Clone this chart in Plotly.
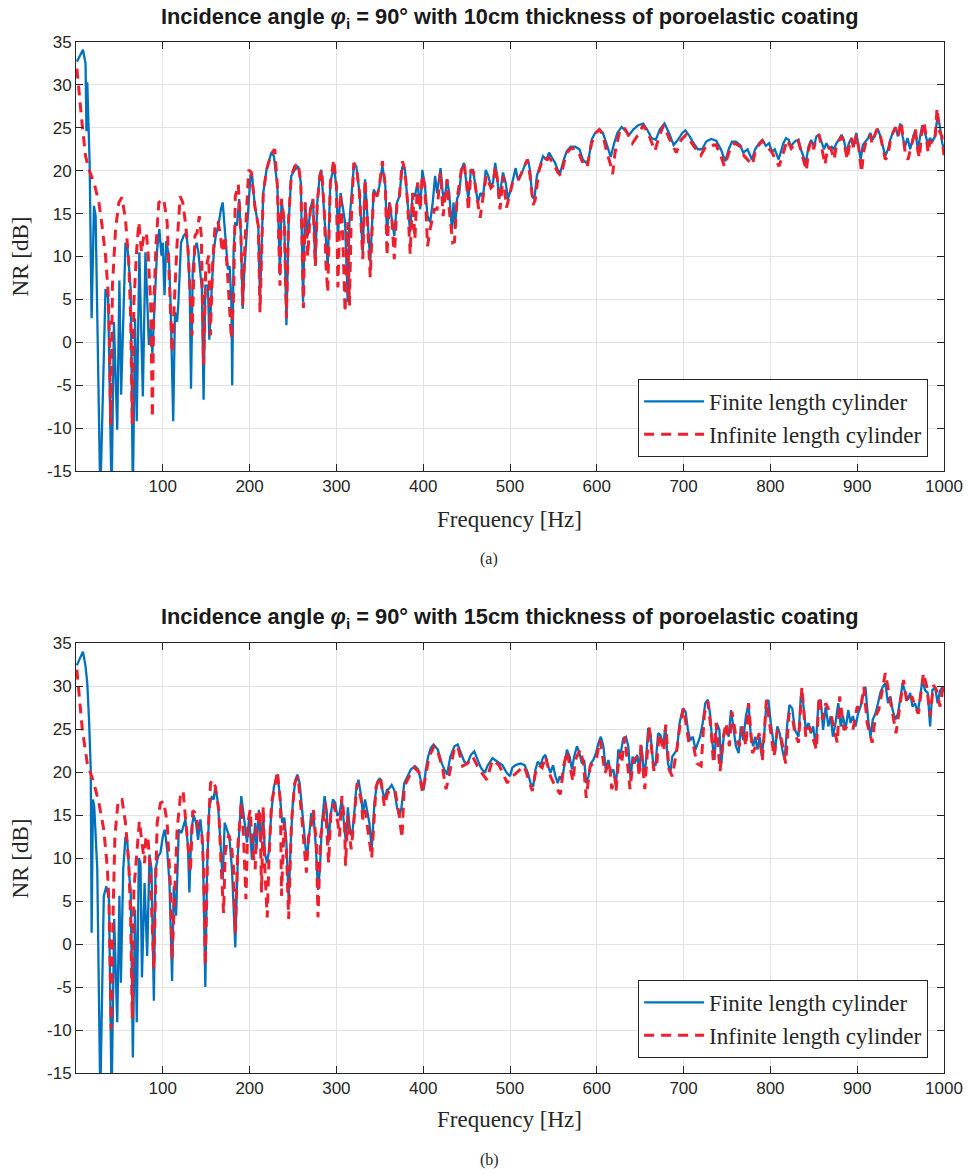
import plotly.graph_objects as go

# Noise reduction NR [dB] versus frequency [Hz], (frequency, NR) pairs per series.
# (a) 10 cm poroelastic coating
finite_10cm = [
    (1, 32.7), (8, 34.1), (11, 32.5), (12, 24.6), (13, 30.3), (15.7, 20.9), (18, 2.8), (20.7, 15.9),
    (22.6, 14.7), (28, -18), (34, 6.2), (37, 5.1), (41, -18), (43.7, 2.4), (47.5, -10.2), (50, 7.2),
    (52, -6.1), (57, 11.6), (59.4, 10.9), (63, 6.2), (65.5, -18), (68, 2.8), (70, -9.2), (73, 10.5),
    (77, -6.3), (80, 10.5), (84, -0.3), (86, 1.6), (88, -1.3), (93.5, 10.9), (96, 13.2), (98.5, 10.1),
    (100, 11.6), (102, 5.5), (104, 11.8), (107, 10.1), (109, 4.3), (112, -9.2), (114, 3.5), (116.5, 2.4),
    (118, 4.7), (121, 11.6), (124, 12.4), (127, 12.8), (129, 10.9), (131, 6.2), (132.5, -5.4), (134.5, 8.5),
    (137, 10.9), (139, 11.6), (141, 10.5), (143.7, 7.8), (145, 6.2), (147, -6.7), (149, 6.6), (152, 6.6),
    (153.6, 0.3), (156.7, 7.0), (159, 10.9), (161, 12.4), (164, 13.6), (167, 15.5), (169, 16.3), (172, 12.4),
    (175, 8.5), (177, 8.9), (179, 4.7), (180, -5), (181.6, 10.9), (183.5, 14), (185.4, 13.6), (188, 16.7),
    (190, 12.4), (192, 3.9), (194, 8.5), (197, 13.2), (201, 19.4), (203, 19.3), (206, 15.9), (210, 13.6),
    (212, 4.7), (215.7, 17.4), (219.5, 20.1), (225, 22.1), (228, 21.7), (232, 18.2), (235, 7.8), (236.7, 16.7),
    (240, 14), (242.4, 2), (245, 14), (248, 19.4), (252, 20.1), (256, 20.5), (259, 18.6), (261.6, 4.7),
    (264, 16.3), (267, 12.4), (270, 15.5), (273, 16.7), (275.7, 8.9), (278, 16.3), (280.7, 19.4), (282.6, 20.1),
    (285.7, 15.5), (288, 11.6), (290, 8.9), (293, 18.6), (297, 20.5), (300, 18.2), (301.7, 12.4), (304.8, 17.4),
    (307.5, 15.5), (310, 14), (313, 4.7), (315, 14), (320, 20.5), (323, 20.5), (326.6, 17.4), (330.4, 10.5),
    (333, 19), (336, 13.6), (339, 9.4), (343, 17.8), (346.8, 17), (349.5, 18.2), (353, 20.6), (356.4, 18.2),
    (358.3, 12.4), (361, 16.3), (363.7, 14.7), (366.7, 12.4), (369.8, 16.3), (372.5, 17), (376, 20.5), (379, 20.1),
    (382, 16.3), (385, 12.8), (387.8, 17.4), (390.4, 17), (393.5, 18.6), (396.6, 15.5), (399, 20.1), (402, 18.2),
    (405, 14.7), (408, 14), (411, 16.3), (413.7, 19.4), (416, 17.4), (420, 20.3), (422.5, 17.4), (424.4, 16.3),
    (427.5, 19), (430, 17.4), (433, 13.2), (435, 16.3), (436.6, 13.2), (439, 16.7), (441.6, 17.4), (444, 20.1),
    (447, 20.9), (450, 18.6), (452, 16.7), (455, 20.1), (457.5, 20.1), (460.7, 17.8), (463, 16.3), (466, 17.4),
    (469, 17), (472, 20.1), (475, 19.4), (478, 18.2), (480.5, 18.6), (483, 20.9), (485.5, 19), (487.4, 16.7),
    (490, 18.2), (492, 19.8), (495, 18.6), (497.7, 16.7), (500.8, 17.8), (504, 19.4), (506.5, 20.3), (509, 19),
    (512, 19.4), (515, 20.1), (518, 20.9), (520.6, 21.3), (523, 20.1), (525.6, 17), (528, 16.7), (531, 19.4),
    (535, 20.9), (538, 21.7), (542, 21.3), (545, 22.1), (548.5, 21.5), (552, 20.9), (555, 20.1), (558, 19.8),
    (562, 21.3), (565.6, 22.3), (570, 22.8), (575, 22.8), (580, 22.5), (584, 21.3), (588, 20.9), (590.5, 21.3),
    (594, 23.6), (598, 24.4), (603, 24.8), (607, 24.4), (611, 23.2), (616, 21.6), (620, 23.2), (623.7, 24.4),
    (628.6, 25.1), (632.4, 24.7), (637.4, 24.2), (642, 24.8), (647.7, 25.3), (653.4, 25.5), (658, 24.8), (663, 23.8),
    (668, 23.6), (672.5, 24.8), (678, 25.5), (683.2, 24.4), (688.5, 23), (693.5, 23.6), (698.5, 24.4), (702, 24.7),
    (707, 24), (711.5, 23.2), (716.4, 22.5), (721.4, 22.5), (726, 23.4), (731.7, 23.7), (737.4, 23.5), (743, 22.5),
    (748, 21.1), (752, 22.5), (755.7, 23.4), (760.3, 23.4), (765, 23), (768.7, 22.1), (773.7, 22.5), (778.6, 21.3),
    (782.4, 22.5), (787, 23.2), (790.8, 23.6), (794.7, 22.9), (798.5, 23.2), (802, 22.2), (805, 22.5), (809.5, 21.3),
    (812, 22.1), (815, 23.2), (818, 23.8), (821, 23.6), (823.7, 22.8), (826.3, 23.2), (829.4, 23.5), (832.4, 23.6),
    (835, 22.5), (837.8, 21.7), (840.8, 20.9), (843.9, 22.8), (847, 23.6), (850, 22.8), (853, 24), (856, 24.2),
    (859, 23.2), (861.8, 22.5), (864.5, 23.2), (867.6, 22.6), (870.6, 22.8), (873.3, 22.5), (876, 23.2), (879, 23.6),
    (882, 24.2), (884.7, 23.6), (887.4, 22.1), (890.5, 23.2), (893.5, 23.8), (896, 22.8), (899, 24.4), (901, 23.2),
    (904, 21.3), (906.5, 23), (909.5, 23.4), (912.6, 23.8), (915, 24.4), (918, 23.6), (921, 24.4), (924, 24.8),
    (926.7, 24), (929.4, 22.8), (932.4, 21.7), (935.5, 22.5), (938, 23.6), (941, 24.4), (944, 25.1), (947, 24),
    (949.6, 25.5), (952.3, 24), (955, 22.8), (958, 23.8), (961, 22.5), (963.7, 23.6), (966.8, 24.7), (969.8, 22.5),
    (972.5, 24), (975, 25.3), (978, 24.4), (981.3, 23.2), (984, 23.8), (986.6, 23.4), (989.7, 24), (992.7, 26.5),
    (995.4, 25.1), (998, 23.2), (1000, 22.5),
]

infinite_10cm = [
    (1, 31.9), (3.4, 29), (7.3, 25.2), (11, 21.7), (15, 20.1), (20.7, 18.6), (26.4, 16.3), (30, 13.6),
    (34, 10.1), (37, 5.8), (38.7, 0), (40, -9.6), (42, 6.6), (45.6, 13.2), (49.4, 16.3), (53, 16.9),
    (57, 14.3), (60.8, 9.3), (63, 2.8), (64.8, -9.6), (66.7, 4.7), (70, 10.9), (72.4, 14), (75.5, 10.5),
    (78, 12.4), (81, 12.8), (83, 10.5), (86, 4.7), (88, -8.8), (89.7, 4.7), (92.3, 11.6), (95.4, 16.3),
    (101, 16.7), (105, 14), (109, 4.7), (110.7, -1.2), (114, 6.2), (116.5, 11.6), (120, 17), (123, 16.3),
    (126, 14), (129, 10.9), (132, 4.7), (133.7, 0.8), (137, 12.4), (139.5, 12.8), (142, 14.7), (144.4, 12.4),
    (147, -2.6), (149.4, 8.5), (152.9, 10.1), (154.8, 0.8), (157.5, 9.3), (160.5, 14), (163.5, 14), (166, 12.8),
    (168.6, 10.5), (171.6, 12.4), (174.7, 7.8), (179, 0.4), (181.6, 5.4), (183.5, 17), (187, 18.4), (190, 12.4),
    (192, 4.3), (195, 12.4), (199, 20.1), (202, 19.8), (206, 15.9), (210, 13.6), (212, 3.5), (215.7, 17.4),
    (219.5, 20.1), (225, 22), (229, 22.5), (232, 18.2), (235, 6.6), (236.7, 16.7), (240, 14), (242.4, 2.8),
    (245, 14.5), (248, 19.4), (252, 20.5), (256, 20.9), (259, 18.6), (262, 4), (264, 16.3), (267, 10),
    (270, 15.5), (273, 16.7), (275.7, 8.9), (278, 16.3), (281, 19.4), (283, 20.1), (286, 15.5), (288, 9),
    (290, 5.8), (293, 18.6), (297, 21.3), (300, 18.2), (301.7, 6.4), (304.8, 17.4), (307.5, 12), (310, 3.5),
    (313, 14), (315, 4.3), (317, 14), (320, 20.9), (323, 20.5), (326.6, 17.4), (330.4, 9.7), (333, 19),
    (336, 13.6), (339, 7.6), (343, 17.8), (346.8, 17), (349.5, 18.2), (353, 21.1), (356.4, 18.2), (358.3, 10.1),
    (361, 16.3), (363.7, 14.7), (366.7, 9.7), (369.8, 16.3), (372.5, 17), (376, 21.1), (379, 20.1), (382, 16.3),
    (385, 10.3), (387.8, 17.4), (390.4, 12), (393.5, 18.6), (396.6, 15.5), (399, 19.5), (402, 18.2), (405, 11.2),
    (408, 13.2), (413, 15.5), (416, 15.5), (420, 19.8), (423, 14.7), (427.5, 19), (430, 15.5), (434, 11.6),
    (436, 11.7), (439, 16.7), (444, 20.1), (447, 20.9), (450, 18.6), (452, 15.3), (455, 20.1), (458, 19.8),
    (461, 17.5), (465.6, 14.5), (469, 17), (472.7, 19.4), (478, 18), (480.5, 18.3), (483, 20.5), (485.5, 19),
    (488.5, 15.5), (492, 19.4), (496, 15.7), (500.8, 17.5), (504, 19), (510, 19), (515, 20.1), (520, 21.3),
    (523, 19.5), (526.7, 16), (529, 16.6), (533, 19.8), (538, 21.5), (543, 21.3), (545, 21.5), (550, 20.9),
    (555, 19.8), (558.8, 19.4), (562, 20.9), (565.6, 22.1), (570, 22.6), (575, 22.6), (580, 21.9), (585.5, 20.5),
    (589, 20.5), (594, 23.2), (599, 24.4), (603, 24.8), (607, 24.2), (611.5, 22.1), (615.3, 20.9), (618.3, 19.6),
    (621, 22.1), (627, 24.9), (632.4, 24.9), (641, 23.2), (647.7, 24.2), (653.4, 25.3), (659, 24.4), (667, 22.3),
    (672.5, 24.2), (677, 25.3), (683.2, 23.8), (691.6, 22.1), (697.3, 23.6), (703, 24.2), (711.5, 22.9), (720, 21.8),
    (726, 22.9), (737.4, 23), (743, 21.7), (747, 20.5), (753.5, 22.5), (758.5, 23.2), (766, 22.8), (769.8, 21.7),
    (779.4, 20.7), (783, 22.5), (790.8, 23.5), (796.5, 22.8), (802, 22.1), (810, 20.5), (814.5, 22.1), (819.5, 23.6),
    (824, 22.6), (828.5, 23.2), (832, 23.5), (835, 22.3), (837.8, 21.3), (841.5, 20), (844, 22.5), (847, 23.5),
    (850, 22.5), (852.5, 23.8), (856, 24.2), (859, 22.8), (863, 20.7), (866, 22.8), (870, 22.5), (873.3, 21.3),
    (876, 22.8), (879, 23.5), (882, 24), (885, 23.2), (888.5, 21.3), (891, 23), (893.5, 23.8), (896, 22.5),
    (899, 24.2), (902, 22.5), (905, 19.8), (907.6, 22.3), (910, 23.3), (913, 23.8), (915, 24.2), (917, 23.2),
    (921, 24.2), (923, 24.9), (927, 23.9), (929.5, 22.5), (932.4, 21.3), (935.5, 21.7), (938, 23.4), (941, 24.4),
    (944, 25), (947, 24), (950.5, 25.7), (953, 23.8), (955.5, 22), (958.5, 21.3), (961, 22.5), (963.7, 23.4),
    (967, 24.9), (969.8, 22.3), (971.8, 21.5), (974, 24.2), (976.7, 25.7), (979, 24.4), (981.7, 22.1), (984, 23.5),
    (987, 23.2), (990, 24.2), (992, 27.3), (994.8, 24.6), (997.6, 24.0), (1000, 21.8),
]

# (b) 15 cm poroelastic coating
finite_15cm = [
    (1, 32.4), (8, 34), (11, 32.3), (13, 30.3), (15, 26.1), (17, 20.3), (18, 1.3), (19.5, 16.8),
    (21, 16), (24.5, 8.7), (28, -18), (32, 5.6), (35, 6.7), (38, 5.2), (41, -18), (44, 2.9),
    (47.5, -9.1), (50, 5.6), (51.7, -4.5), (54.4, 8.7), (57, 12.5), (59, 12.1), (61.7, 7.5), (63, 6.3),
    (65.5, -13.2), (68, 4), (70, -9.1), (72.4, 10), (74.3, 9.4), (76, -3.9), (79, 7.1), (82, -1.4),
    (84.7, 10.4), (87, 8.7), (89.7, -6.6), (91.6, 8.7), (94.6, 10.2), (97.3, 10.6), (100, 12.5), (102.3, 13.3),
    (105, 11), (107.7, 7.1), (110.7, -4.3), (112.6, 6.7), (115.3, 3.3), (118.4, 13.3), (121.5, 12.9), (124, 13.7),
    (126, 14.5), (129, 11.4), (130.6, 6), (133, 13.3), (135.6, 15), (138.3, 14.1), (140.6, 12.1), (143.3, 14.5),
    (146, 11.8), (149, -5), (151, 8.7), (153.6, 16), (156.7, 17.2), (158.6, 16.8), (160.5, 18.3), (163.6, 16.4),
    (166.3, 12.5), (169, 7.5), (171.3, 14.1), (174, 13.3), (176.6, 12.5), (179.7, 8.7), (183.5, -0.4), (186.6, 10.6),
    (190.4, 17.2), (194.3, 14.1), (197, 11.8), (199.6, 14.8), (202.7, 9.8), (206.5, 14.1), (208, 11), (210.7, 15.6),
    (213, 11.8), (215.7, 14.9), (217.6, 10.6), (220, 9.4), (222, 10.6), (225, 15.2), (228, 18.3), (232, 19.7),
    (235, 17.2), (237.5, 14.1), (240, 14.7), (242.4, 11.8), (245, 5.2), (247.4, 11.8), (250, 16.8), (252.8, 19.1),
    (255, 19.7), (257.7, 18.7), (260.4, 15.6), (263.5, 12.1), (265.8, 9.8), (268.5, 12.5), (271, 15.2), (273.8, 14.9),
    (276.5, 11), (278.8, 6.3), (281, 8.7), (283.4, 14.1), (286.4, 17.2), (288.7, 15.6), (291, 11.8), (293.3, 14.9),
    (296, 16.8), (298.7, 16.4), (301, 14.9), (303.6, 15.2), (306.3, 16.8), (308.6, 14.1), (311, 11.8), (313.2, 15.9),
    (315.5, 13.3), (317.8, 12.5), (320, 14.5), (322.7, 17.9), (325.4, 19.1), (328.5, 17.2), (330.4, 15.2), (333, 16.8),
    (335.4, 15.6), (338, 14.1), (340.7, 11), (343.8, 16.4), (346.8, 18.7), (350, 19.3), (353, 17.9), (355.3, 16.8),
    (358.3, 17.9), (361, 18.1), (363.7, 18.5), (366.7, 17.9), (369.8, 15.9), (372.5, 14.9), (375, 15.9), (378.2, 18.7),
    (382, 19.5), (385.8, 20.3), (390.4, 20.7), (394.2, 20.3), (398, 18.7), (400.4, 17.9), (403, 20.3), (405.7, 21.8),
    (408.8, 22.8), (412, 23.2), (416.8, 22.6), (421.4, 21), (424.4, 20.3), (427.5, 19.7), (431.3, 21.8), (436, 23),
    (439.7, 23.2), (443.5, 22.2), (447.3, 21.2), (451, 21), (455, 22), (458.8, 22.4), (462.6, 21.4), (466.4, 20.5),
    (471, 19.9), (474, 20.7), (479.8, 21.6), (485.5, 21.2), (491.2, 20.8), (496.2, 19.9), (500, 19.5), (502.7, 20.5),
    (506.5, 20.8), (512.2, 21), (516.8, 20.8), (520.6, 19.9), (523.7, 18.7), (526.7, 18.3), (529.4, 20.3), (532, 21.2),
    (535, 20.8), (538.2, 21.7), (540.8, 22), (543.5, 20.8), (546.6, 19.9), (549.6, 20.8), (552.3, 19.5), (555, 18.7),
    (557.3, 19.5), (560, 19.1), (562.6, 21), (565.6, 22.6), (568.7, 21.8), (571.4, 20.3), (574, 21.8), (577.1, 23),
    (580, 22.2), (582.8, 21), (585.5, 21.4), (587.8, 18.7), (590.5, 19.5), (593, 21), (596, 21.4), (599, 22.2),
    (602, 23.4), (604.6, 24.1), (607.6, 23), (610.3, 20.3), (613.4, 21.4), (616, 19.9), (619, 20.3), (622, 18.3),
    (624.8, 22.6), (627.5, 22.2), (630.5, 23.9), (633.6, 24.1), (636.3, 23), (639, 19.1), (641.2, 21.8), (643.9, 21),
    (646.6, 22), (648.9, 20.3), (651.5, 23), (654.2, 19.9), (656.5, 21), (659.2, 25.1), (661.8, 24.5), (664.9, 21),
    (667.6, 20.7), (670.6, 24.5), (673.3, 24.3), (676.3, 23), (679, 25.3), (682, 21), (684.7, 19.9), (687, 21.8),
    (689.7, 22.2), (692.4, 22.6), (695.4, 25.7), (699.2, 27.4), (702.3, 27), (705, 24.9), (707.6, 23.7), (710.7, 24.1),
    (713.7, 22.6), (716.4, 23.4), (719, 24.1), (722, 25.7), (725, 28), (727.9, 28.4), (730.5, 26.8), (732.8, 23.7),
    (735.5, 21.4), (738.2, 25.7), (741.2, 24.9), (743.5, 21), (746.2, 24.1), (748.9, 25.3), (751.9, 24.1), (754.6, 27.2),
    (757.3, 24.9), (760.3, 23), (763.4, 22.2), (766, 25.3), (768.7, 23.7), (771.8, 26.5), (774.8, 28), (777.5, 24.1),
    (780.2, 23), (782.4, 24.1), (785.1, 22.6), (787.8, 24.1), (790, 21.8), (792.7, 24.1), (795.4, 28), (797.7, 28.4),
    (800.4, 25.7), (803, 24.1), (805.3, 22.2), (808, 25.3), (810.7, 24.5), (813.7, 22.6), (816.4, 21.4), (819.5, 25.7),
    (822, 27.8), (825.2, 27.4), (828.2, 24.9), (832.4, 24.1), (835, 28.8), (837.8, 28), (840.8, 24.9), (843.9, 25.7),
    (846.6, 24.5), (849.2, 25.3), (852.3, 23), (855.3, 28), (858, 28.4), (860.7, 24.9), (863.7, 27.6), (866.8, 25.3),
    (869.5, 26.5), (872, 24.1), (875, 25.7), (878.2, 28), (881, 25.3), (883.6, 26.5), (886.6, 24.9), (889.7, 27.2),
    (892.4, 25.7), (895, 26.5), (898, 25.3), (901, 26.8), (903.8, 27.6), (906.5, 28.8), (909.5, 29.9), (912.6, 26.1),
    (915.3, 24.1), (918, 26.1), (921, 26.8), (924, 28), (926.7, 29.2), (929.4, 29.9), (932.4, 30.3), (935.5, 28),
    (938.2, 28.8), (940.8, 27.2), (944, 26.1), (947, 26.8), (949.6, 28.4), (952.3, 30.3), (955.3, 29.2), (958.4, 28.4),
    (961, 29.2), (963.7, 27.6), (966.8, 28), (969.8, 26.8), (972.5, 28.8), (975.2, 30.7), (978.2, 29.5), (981.3, 29.2),
    (984, 25.3), (986.6, 29.5), (989.7, 29.9), (992.7, 28), (995.4, 29.4), (998, 29.9), (1000, 29.5),
]

infinite_15cm = [
    (1, 31.9), (3.4, 29), (7.3, 24.9), (13, 21), (20.7, 18.7), (26.4, 16.4), (32, 13.3), (36, 9),
    (38, 4.8), (39.8, -4.9), (40.6, -9.9), (42.5, 2.5), (44.8, 12.5), (48.7, 16.8), (53, 16.8), (57, 14.1),
    (60.8, 9.4), (63, 2.8), (64.8, -8.7), (66.7, 6.3), (70.5, 11.7), (73, 14.3), (76, 11.8), (79, 9.4),
    (80.5, 12.5), (82.8, 12.5), (85.4, 8.7), (87.4, 2.9), (89.7, -2.9), (91.6, 6.3), (93.5, 14.1), (97.3, 16.4),
    (101, 16.6), (105, 14.1), (108.8, 6.7), (110.7, -1.8), (113.8, 6.3), (116.5, 13.3), (120.3, 17.2), (123.4, 17.8),
    (126, 14.8), (129, 11.8), (131.8, 8.3), (134.5, 15.5), (136.8, 15.3), (139.5, 14.3), (142.1, 12.8), (145, 12.8),
    (147, 8.7), (149, -2.5), (152, 12.5), (155, 18.7), (157.5, 19.1), (160.5, 18.3), (164.4, 15.6), (167.4, 8.7),
    (170, 3.6), (172, 10.8), (175.9, 12.7), (179, 11.6), (181.6, 8.7), (183.5, 1.3), (186.6, 11.6), (190.4, 16.4),
    (193, 12.5), (195.8, 5.2), (198, 14.1), (200.7, 15.6), (203.4, 11), (206.5, 8.7), (208, 15.2), (210, 14.1),
    (211.9, 15.6), (213.8, 6), (215.7, 16), (217.6, 8.7), (220.3, 3.1), (222.2, 9.4), (225.2, 16.4), (229, 18.3),
    (232, 20.1), (235.6, 16.4), (236.7, 5.6), (239.8, 14.1), (242.4, 11), (245, 2.9), (248.2, 14.1), (252, 18.7),
    (255.8, 19.5), (259.7, 15.2), (262.7, 11.8), (265.4, 8.3), (268, 12.5), (271, 13.7), (273.4, 15.6), (276.9, 11.8),
    (278.8, 3.1), (281.8, 12.5), (284.5, 14.1), (287.2, 16.4), (291, 9.4), (294, 16), (297.1, 16.2), (301.7, 14.1),
    (303.6, 12.5), (306.3, 17.2), (309.4, 14.1), (310.5, 9.1), (313.2, 14.9), (317, 11), (320, 14.1), (323.9, 18.7),
    (328.5, 16.8), (330.4, 14.5), (333, 15.6), (336.9, 12.9), (340.7, 10), (345.7, 18.3), (350.7, 19.5), (355.3, 16),
    (359.1, 17.6), (362.9, 17.9), (367.5, 17.9), (372.5, 14.9), (375.5, 12.3), (378.2, 18.3), (385.8, 19.9), (390.4, 20.5),
    (395.4, 19.9), (399.2, 17.6), (403, 19.5), (406.9, 21.8), (412.6, 23), (415.7, 22.8), (422.5, 20.3), (426.3, 18),
    (429, 19.1), (435.9, 22.8), (439.7, 23), (445.4, 20.7), (451.1, 21), (456.9, 21.8), (464.5, 20.3), (473.3, 19.1),
    (479.8, 21.4), (487.4, 20.8), (496.9, 18.7), (500.8, 19.5), (505.3, 19.7), (516, 20.7), (519, 19.9), (525.6, 17.8),
    (529.4, 19.9), (533.2, 20.8), (537, 20.5), (540.8, 21.8), (546.6, 19.5), (552.3, 18.3), (558, 17.4), (561.8, 20.7),
    (565.6, 22.4), (572.5, 18.9), (575.2, 21.4), (580.9, 22.6), (584.7, 21), (587.8, 17), (592.4, 20.7), (596.2, 21),
    (600, 21.8), (603.8, 23.7), (609.5, 19.9), (614.5, 21.2), (617.2, 18), (621, 19.5), (622.1, 17.8), (626, 22.2),
    (628.6, 21), (632.4, 24.1), (638.2, 18), (642, 21.4), (646.6, 21.8), (648.9, 19.5), (650.8, 23.2), (655.3, 18),
    (660.3, 25.3), (665.6, 20.3), (668.7, 20.3), (671.8, 24.5), (677.1, 22.4), (679.4, 25.5), (683.2, 20.3), (687, 19.5),
    (691.6, 22.2), (696.2, 25.7), (700, 27.4), (706.1, 23.4), (711.5, 23), (715.3, 21), (720.2, 20.7), (724, 26.8),
    (727.9, 28.2), (731.7, 24.9), (734.4, 21), (737.4, 25.7), (742, 20.1), (745.8, 24.1), (748.9, 25.7), (752.7, 23),
    (755.7, 27), (760.3, 24.1), (764.1, 23), (767.9, 25.3), (771.8, 23), (774.8, 28), (779.4, 22.2), (783.2, 23),
    (787, 24.5), (790.8, 21.4), (795.4, 28.4), (800.4, 24.5), (804.2, 21.8), (808, 24.9), (813, 23.7), (817.6, 21),
    (821.4, 26.8), (825.2, 26.5), (828.2, 24.5), (832.4, 23.4), (836.3, 29.9), (840.8, 24.1), (844.7, 25.3), (848.5, 24.1),
    (853, 22.6), (856.1, 28.8), (860, 26.1), (863.7, 28), (869.5, 26.8), (877.1, 23.4), (879.8, 28.8), (884.7, 24.9),
    (888.5, 25.3), (895, 24.9), (900, 27.6), (903.8, 27.2), (907.6, 29.9), (911.5, 25.7), (917.2, 23.4), (921, 26.5),
    (924.8, 27.2), (932.4, 31.5), (936.3, 29.5), (940.8, 26.8), (944.7, 24.5), (948.5, 27.2), (953.4, 30.7), (957.3, 28),
    (963, 28.8), (966.8, 27.6), (970.6, 26.8), (976.3, 31.5), (980.2, 29.9), (984, 26.5), (987.8, 30.1), (991.6, 29.5),
    (995.4, 27.6), (999.2, 30.1), (1000, 30.1),
]

x_ticks = [100, 200, 300, 400, 500, 600, 700, 800, 900, 1000]
x_tick_labels = [str(v) for v in x_ticks]
y_ticks = [-15, -10, -5, 0, 5, 10, 15, 20, 25, 30, 35]
y_tick_labels = ["-15", "-10", "-5", "0", "5", "10", "15", "20", "25", "30", "35"]

titles = [
    "<b>Incidence angle <i>φ</i><sub>i</sub> = 90° with 10cm thickness of poroelastic coating</b>",
    "<b>Incidence angle <i>φ</i><sub>i</sub> = 90° with 15cm thickness of poroelastic coating</b>",
]
captions = ["(a)", "(b)"]

BLUE = "#0072BD"
RED = "#EE1F2E"
AX = "#262626"
GRID = "#e3e3e3"
SERIF = "Liberation Serif, Times New Roman, serif"
SANS = "Liberation Sans, Arial, sans-serif"

W, H = 975, 1174
ML, MR, MT, MB = 76, 25, 42, 101
plot_h = H - MT - MB


def py(p):
    """Pixel row -> paper y coordinate."""
    return (H - MB - p) / plot_h


def px(p):
    return (p - ML) / (W - ML - MR)


fig = go.Figure()

panels = [
    (finite_10cm, infinite_10cm, "x", "y", "legend"),
    (finite_15cm, infinite_15cm, "x2", "y2", "legend2"),
]
for fin, inf, xa, ya, lg in panels:
    f1, v1 = zip(*fin)
    f2, v2 = zip(*inf)
    fig.add_trace(go.Scatter(x=f1, y=v1, mode="lines", name="Finite length cylinder",
                             line=dict(color=BLUE, width=2.3), xaxis=xa, yaxis=ya, legend=lg))
    fig.add_trace(go.Scatter(x=f2, y=v2, mode="lines", name="Infinite length cylinder",
                             line=dict(color=RED, width=3, dash="10px,7px"), xaxis=xa, yaxis=ya, legend=lg))

axis_common = dict(
    showline=True, linecolor=AX, linewidth=1, mirror="allticks",
    ticks="inside", ticklen=7, tickcolor=AX, tickwidth=1,
    showgrid=True, gridcolor=GRID, gridwidth=1, zeroline=False,
    tickfont=dict(family=SANS, size=17, color=AX),
)

top_dom = [py(471), py(42)]
bot_dom = [py(1073), py(643)]

legend_common = dict(xanchor="right", yanchor="bottom", bgcolor="white",
                     bordercolor=AX, borderwidth=1, font=dict(family=SERIF, size=23, color=AX),
                     itemwidth=60, tracegroupgap=0)

fig.update_layout(
    width=W, height=H,
    margin=dict(l=ML, r=MR, t=MT, b=MB),
    paper_bgcolor="white", plot_bgcolor="white",
    xaxis=dict(domain=[0, 1], anchor="y", range=[0, 1000], tickvals=x_ticks, ticktext=x_tick_labels, **axis_common),
    yaxis=dict(domain=top_dom, anchor="x", range=[-15, 35], tickvals=y_ticks, ticktext=y_tick_labels, **axis_common),
    xaxis2=dict(domain=[0, 1], anchor="y2", range=[0, 1000], tickvals=x_ticks, ticktext=x_tick_labels, **axis_common),
    yaxis2=dict(domain=bot_dom, anchor="x2", range=[-15, 35], tickvals=y_ticks, ticktext=y_tick_labels, **axis_common),
    legend=dict(x=px(934), y=py(457), **legend_common),
    legend2=dict(x=px(934), y=py(1058), **legend_common),
    showlegend=True,
)

annotations = []
for title, cap, t_y, xl_y, cap_y, yl_y in [
    (titles[0], captions[0], 18, 519, 559, 256),
    (titles[1], captions[1], 618, 1119, 1160, 858),
]:
    annotations.append(dict(text=title, x=px(513), y=py(t_y), xref="paper", yref="paper", showarrow=False,
                            xanchor="center", yanchor="middle", font=dict(family=SANS, size=21.8, color="#1a1a1a")))
    annotations.append(dict(text="Frequency [Hz]", x=px(512), y=py(xl_y), xref="paper", yref="paper", showarrow=False,
                            xanchor="center", yanchor="middle", font=dict(family=SERIF, size=23, color=AX)))
    annotations.append(dict(text=cap, x=px(492), y=py(cap_y), xref="paper", yref="paper", showarrow=False,
                            xanchor="center", yanchor="middle", font=dict(family=SERIF, size=16, color=AX)))
    annotations.append(dict(text="NR [dB]", x=px(20), y=py(yl_y), xref="paper", yref="paper", showarrow=False,
                            xanchor="center", yanchor="middle", textangle=-90,
                            font=dict(family=SERIF, size=23, color=AX)))
fig.update_layout(annotations=annotations)

fig.write_html("out.html")
